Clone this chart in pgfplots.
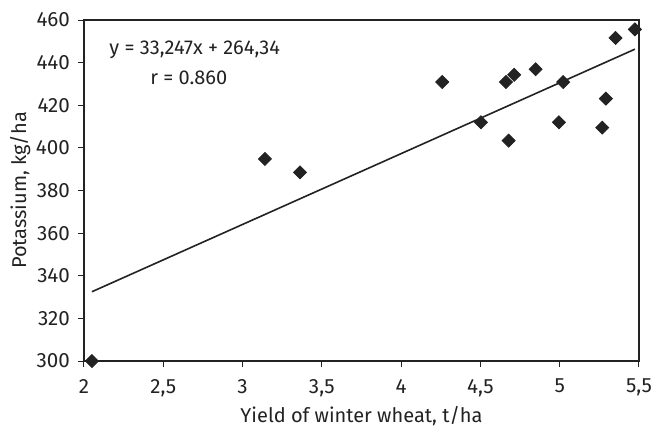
\documentclass[border=0pt]{standalone}
\usepackage{pgfplots}
\pgfplotsset{compat=1.18}
\usepackage{fontspec}
\setmainfont{Fira Sans}
\definecolor{ink}{HTML}{222222}

\begin{document}
\begin{tikzpicture}
\path[use as bounding box] (-42pt,-34.5pt) rectangle (285pt,180.5pt);
\begin{axis}[scale only axis,width=277.5pt,height=170.5pt,
 xmin=2,xmax=5.5,ymin=300,ymax=460,
 xtick={2,2.5,...,5.5},ytick={300,320,...,460},
 /pgf/number format/assume math mode=true,
 /pgf/number format/use comma,/pgf/number format/1000 sep={},
 tick label style={font=\fontsize{10.3}{12}\selectfont,text=ink},
 xticklabel style={yshift=-2.5pt},
 yticklabel style={xshift=-0.5pt},
 label style={font=\fontsize{10}{12}\selectfont,text=ink},
 xlabel={Yield of winter wheat, t/ha},ylabel={Potassium, kg/ha},
 xlabel style={at={(axis description cs:0.5,-0.163)},anchor=center},
 ylabel style={at={(axis description cs:-0.115,0.5)},anchor=center},
 tick align=outside,xtick pos=bottom,ytick pos=left,
 major tick length=3pt,tick style={ink,line width=0.5pt},
 axis line style={ink,line width=0.6pt},
 clip=false]
\addplot[ink,line width=0.8pt] coordinates {(2.05,332.5) (5.474,446.3)};
\addplot[only marks,mark=square*,mark size=2.3pt,mark options={rotate=45,fill=ink,draw=ink}] coordinates {
(2.05,300) (3.141,394.8) (3.362,388.5) (4.259,430.9) (4.503,412.0) (4.661,430.9)
(4.713,434.3) (4.848,436.9) (4.678,403.4) (5.022,430.9) (4.995,412.0)
(5.268,409.5) (5.291,423.1) (5.352,451.6) (5.474,455.6)};
\draw[ink,line width=1pt] (axis cs:2,300) -- (axis cs:5.5,300);
\node[anchor=west,font=\fontsize{10}{12}\selectfont,text=ink,inner sep=0pt] at (axis cs:2.158,445.9) {y = 33,247x + 264,34};
\node[anchor=west,font=\fontsize{10}{12}\selectfont,text=ink,inner sep=0pt] at (axis cs:2.416,432.8) {r = 0.860};
\end{axis}
\end{tikzpicture}
\end{document}
